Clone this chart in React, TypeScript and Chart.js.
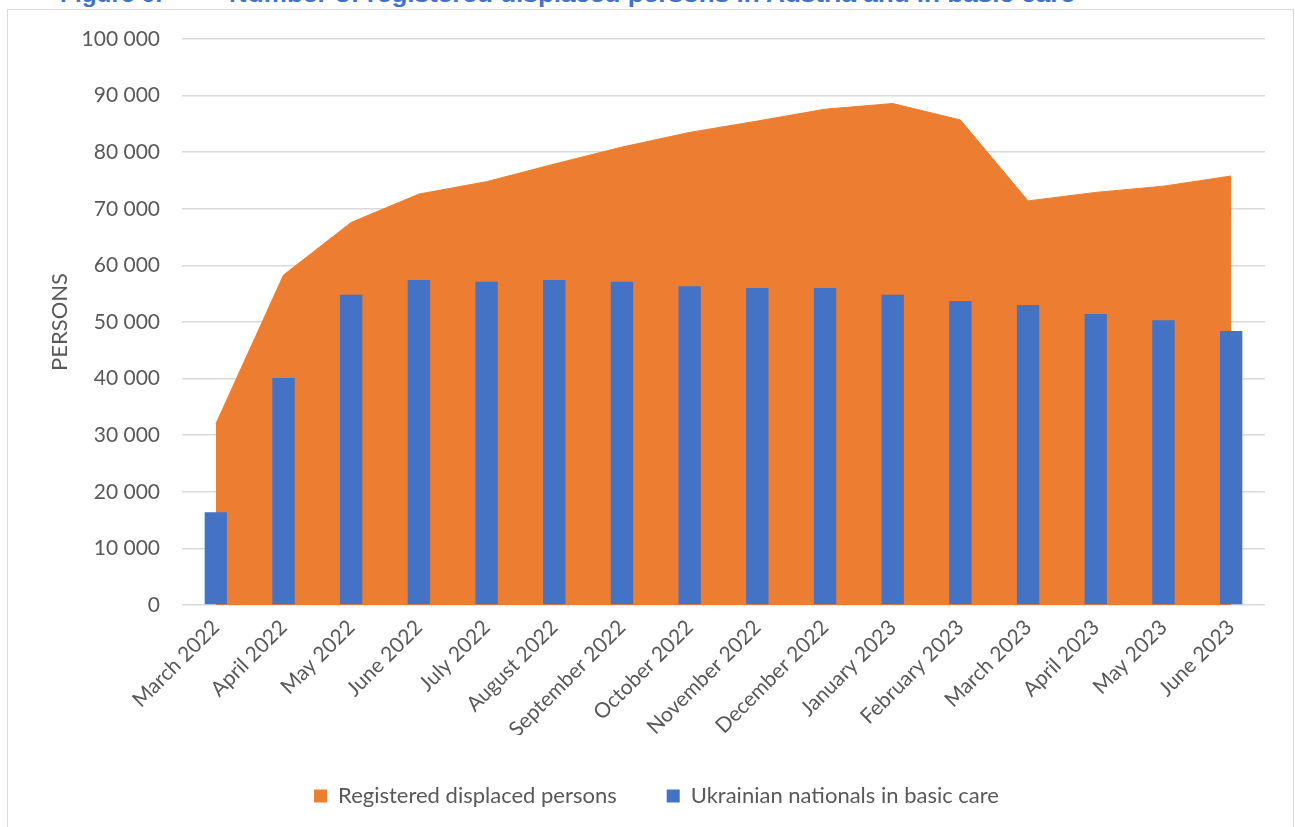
import React, { useEffect, useRef } from 'react';
import { Chart, registerables } from 'chart.js';

Chart.register(...registerables);

const categories = [
  'March 2022', 'April 2022', 'May 2022', 'June 2022', 'July 2022', 'August 2022',
  'September 2022', 'October 2022', 'November 2022', 'December 2022', 'January 2023',
  'February 2023', 'March 2023', 'April 2023', 'May 2023', 'June 2023',
];

const registeredDisplaced = [
  32000, 58300, 67600, 72600, 74800, 77900, 80900, 83500,
  85500, 87600, 88600, 85700, 71400, 72900, 74000, 75800,
];

const basicCare = [
  16400, 40100, 54800, 57400, 57100, 57400, 57100, 56300,
  56000, 56000, 54800, 53700, 53000, 51400, 50300, 48400,
];

const yMin = 0;
const yMax = 100000;
const yStep = 10000;

const seriesNames = ['Registered displaced persons', 'Ukrainian nationals in basic care'];
const yTitle = 'PERSONS';
const figureLabel = 'Figure 6:';
const figureTitle = 'Number of registered displaced persons in Austria and in basic care';

const ORANGE = '#ED7D31';
const BLUE = '#4472C4';
const TEXT = '#595959';
const GRID = '#D9D9D9';
const FONT = 'Lato, "Open Sans", sans-serif';

function fmt(v: number): string {
  return String(v).replace(/\B(?=(\d{3})+(?!\d))/g, ' ');
}

const legendShift = {
  id: 'legendShift',
  afterLayout(chart: any) {
    const lg = chart.legend;
    if (lg) {
      lg.left += 20;
      lg.right += 20;
    }
  },
};

export default function App() {
  const ref = useRef<HTMLCanvasElement | null>(null);

  useEffect(() => {
    if (!ref.current) return;
    const chart = new Chart(ref.current, {
      data: {
        labels: categories,
        datasets: [
          {
            type: 'line',
            label: seriesNames[0],
            data: registeredDisplaced,
            backgroundColor: ORANGE,
            borderColor: ORANGE,
            borderWidth: 1,
            pointRadius: 0,
            tension: 0,
            fill: 'origin',
            order: 2,
          } as any,
          {
            type: 'bar',
            label: seriesNames[1],
            data: basicCare,
            backgroundColor: BLUE,
            borderWidth: 0,
            barPercentage: 0.33,
            categoryPercentage: 1.0,
            order: 1,
          } as any,
        ],
      },
      plugins: [legendShift],
      options: {
        responsive: false,
        animation: false,
        layout: { padding: { left: 8, right: 30, top: 39, bottom: 10 } },
        plugins: {
          tooltip: { enabled: false },
          legend: {
            position: 'bottom',
            labels: {
              boxWidth: 13,
              boxHeight: 13,
              padding: 50,
              color: TEXT,
              font: { family: FONT, size: 22 },
              generateLabels: (c: any) =>
                c.data.datasets.map((d: any, i: number) => ({
                  text: d.label,
                  fillStyle: d.backgroundColor,
                  strokeStyle: d.backgroundColor,
                  lineWidth: 0,
                  hidden: false,
                  datasetIndex: i,
                  fontColor: TEXT,
                })),
            },
          },
        },
        scales: {
          x: {
            offset: true,
            grid: { display: false },
            border: { display: false },
            ticks: {
              autoSkip: false,
              maxRotation: 45,
              minRotation: 45,
              padding: 2,
              color: TEXT,
              font: { family: FONT, size: 21 },
            },
            afterFit: (s: any) => { s.height = 130; },
          },
          y: {
            min: yMin,
            max: yMax,
            grid: { color: GRID, lineWidth: 1.5, drawTicks: false },
            border: { display: false },
            ticks: {
              stepSize: yStep,
              padding: 22,
              color: TEXT,
              font: { family: FONT, size: 21 },
              callback: (v: any) => fmt(Number(v)),
            },
            title: {
              display: true,
              text: yTitle,
              color: TEXT,
              font: { family: FONT, size: 22 },
              padding: { top: 39, bottom: 0 },
            },
            afterFit: (s: any) => { s.width = 174; },
          },
        },
      },
    });
    return () => chart.destroy();
  }, []);

  return (
    <div style={{ position: 'fixed', left: 0, top: 0, width: 1295, height: 827, background: '#fff', overflow: 'hidden' }}>
      <svg width={1295} height={20} style={{ position: 'absolute', left: 0, top: 0 }}>
        <text x={60} y={1.5} fill={BLUE} fontWeight="bold" fontSize={22} fontFamily='"Liberation Sans", sans-serif' textLength={103} lengthAdjust="spacingAndGlyphs">{figureLabel}</text>
        <text x={229} y={1.5} fill={BLUE} fontWeight="bold" fontSize={22} fontFamily='"Liberation Sans", sans-serif' textLength={846} lengthAdjust="spacingAndGlyphs">{figureTitle}</text>
      </svg>
      <div style={{ position: 'absolute', left: 7, top: 9, width: 1285, height: 840, border: `1px solid ${GRID}` }} />
      <canvas ref={ref} width={1295} height={827} style={{ position: 'absolute', left: 0, top: 0, width: 1295, height: 827 }} />
    </div>
  );
}
